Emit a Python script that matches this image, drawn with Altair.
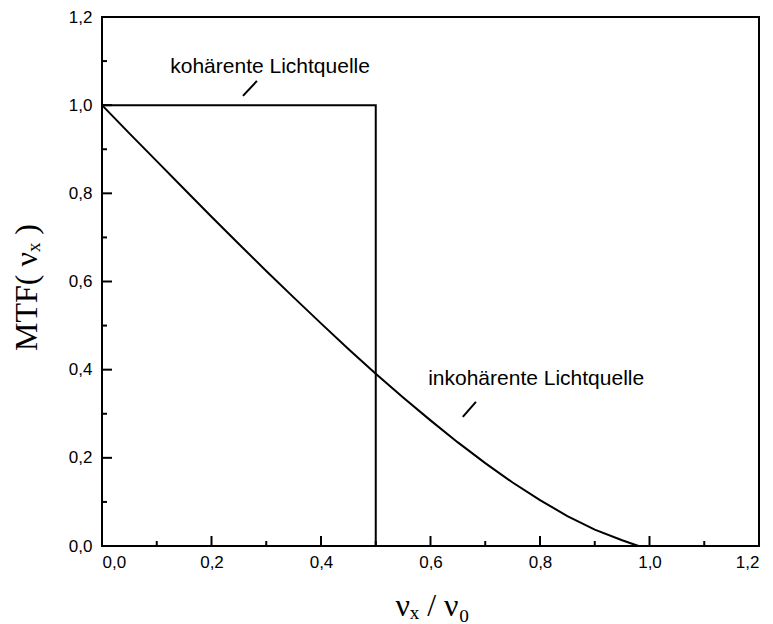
import altair as alt
import pandas as pd

# incoherent source MTF
inc_x = [0.0, 0.05, 0.1, 0.15, 0.2, 0.25, 0.3, 0.35, 0.4, 0.45, 0.5, 0.55,
         0.6, 0.65, 0.7, 0.75, 0.8, 0.85, 0.9, 0.95, 0.98]
inc_y = [1.0, 0.936, 0.873, 0.810, 0.747, 0.685, 0.624, 0.564, 0.505, 0.447,
         0.391, 0.337, 0.285, 0.235, 0.188, 0.144, 0.104, 0.068, 0.037, 0.013, 0.0]

# coherent source MTF
coh_x = [0.0, 0.5, 0.5]
coh_y = [1.0, 1.0, 0.0]

# annotations
ann_text = ["kohärente Lichtquelle", "inkohärente Lichtquelle"]
ann_x = [0.307, 0.793]
ann_y = [1.073, 0.3645]
lead_x1 = [0.2575, 0.659]
lead_y1 = [1.021, 0.293]
lead_x2 = [0.283, 0.683]
lead_y2 = [1.055, 0.327]

major_ticks = [0.0, 0.2, 0.4, 0.6, 0.8, 1.0, 1.2]
minor_ticks = [0.1, 0.3, 0.5, 0.7, 0.9, 1.1]

W, H = 657, 529
X0, X1, Y0, Y1 = 0.0, 1.2, 0.0, 1.2
XMAJ = 10 * (Y1 - Y0) / H
XMIN = 5 * (Y1 - Y0) / H
YMAJ = 10 * (X1 - X0) / W
YMIN = 5 * (X1 - X0) / W

inc_df = pd.DataFrame({"x": inc_x, "y": inc_y, "o": range(len(inc_x))})
coh_df = pd.DataFrame({"x": coh_x, "y": coh_y, "o": range(len(coh_x))})
ann_df = pd.DataFrame({"t": ann_text, "x": ann_x, "y": ann_y})
lead_df = pd.DataFrame({"x1": lead_x1, "y1": lead_y1, "x2": lead_x2, "y2": lead_y2})
maj_df = pd.DataFrame({"v": major_ticks})
min_df = pd.DataFrame({"v": minor_ticks})
frame_df = pd.DataFrame({"x1": [X0], "x2": [X1], "y1": [Y0], "y2": [Y1]})

lab = "replace(format(datum.value, '.1f'), '.', ',')"

xscale = alt.Scale(domain=[X0, X1], nice=False, zero=False)
yscale = alt.Scale(domain=[Y0, Y1], nice=False, zero=False)

xaxis = alt.Axis(values=major_ticks, labelExpr=lab, ticks=False, tickSize=0, domain=False,
                 grid=False, labelPadding=8, labelFont="Liberation Sans", labelFontSize=17,
                 labelColor="black", title="νₓ / ν₀", titleFont="Liberation Serif",
                 titleFontSize=32, titleFontWeight="normal", titleColor="black",
                 titleX=330, titleY=69, titleBaseline="alphabetic", titleAlign="center")
yaxis = alt.Axis(values=major_ticks, labelExpr=lab, ticks=False, tickSize=0, domain=False,
                 grid=False, labelPadding=10, labelFont="Liberation Sans", labelFontSize=17,
                 labelColor="black", title="MTF( νₓ )", titleFont="Liberation Serif",
                 titleFontSize=32, titleFontWeight="normal", titleColor="black",
                 titleAngle=-90, titleX=-66, titleY=270, titleBaseline="alphabetic",
                 titleAlign="center")

frame = alt.Chart(frame_df).mark_rect(filled=False, stroke="black", strokeWidth=2,
                                      fillOpacity=0).encode(
    x=alt.X("x1:Q", scale=xscale, axis=xaxis), x2="x2:Q",
    y=alt.Y("y1:Q", scale=yscale, axis=yaxis), y2="y2:Q")

inc = alt.Chart(inc_df).mark_line(color="black", strokeWidth=2).encode(
    x=alt.X("x:Q", scale=xscale),
    y=alt.Y("y:Q", scale=yscale),
    order="o:Q",
)
coh = alt.Chart(coh_df).mark_line(color="black", strokeWidth=2).encode(
    x=alt.X("x:Q", scale=xscale),
    y=alt.Y("y:Q", scale=yscale),
    order="o:Q",
)
text = alt.Chart(ann_df).mark_text(font="Liberation Sans", fontSize=21, color="black",
                                   align="center", baseline="alphabetic").encode(
    x=alt.X("x:Q", scale=xscale), y=alt.Y("y:Q", scale=yscale), text="t:N")
leads = alt.Chart(lead_df).mark_rule(color="black", strokeWidth=2).encode(
    x=alt.X("x1:Q", scale=xscale), y=alt.Y("y1:Q", scale=yscale),
    x2="x2:Q", y2="y2:Q")

rule = dict(color="black", strokeWidth=2, strokeCap="butt")
xmaj = alt.Chart(maj_df).mark_rule(**rule).encode(
    x=alt.X("v:Q", scale=xscale), y=alt.Y(datum=Y0, scale=yscale), y2=alt.Y2(datum=Y0 + XMAJ))
xmin = alt.Chart(min_df).mark_rule(**rule).encode(
    x=alt.X("v:Q", scale=xscale), y=alt.Y(datum=Y0, scale=yscale), y2=alt.Y2(datum=Y0 + XMIN))
ymaj = alt.Chart(maj_df).mark_rule(**rule).encode(
    y=alt.Y("v:Q", scale=yscale), x=alt.X(datum=X0, scale=xscale), x2=alt.X2(datum=X0 + YMAJ))
ymin = alt.Chart(min_df).mark_rule(**rule).encode(
    y=alt.Y("v:Q", scale=yscale), x=alt.X(datum=X0, scale=xscale), x2=alt.X2(datum=X0 + YMIN))

chart = alt.layer(frame, inc, coh, leads, text, xmaj, xmin, ymaj, ymin).properties(
    width=W, height=H,
    background="white",
    autosize=alt.AutoSizeParams(type="none"),
    padding={"left": 94, "top": 9, "right": 6, "bottom": 78},
).configure_view(stroke=None)

chart.save("out.html", embed_options={"renderer": "svg", "actions": False})
